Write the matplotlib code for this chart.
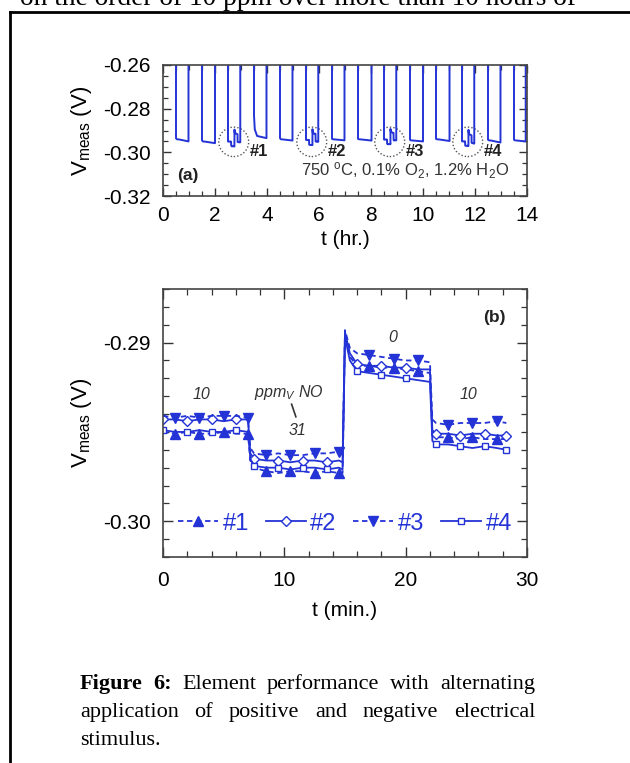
import matplotlib
matplotlib.use("Agg")
import matplotlib.pyplot as plt
from matplotlib.patches import Ellipse
from matplotlib.lines import Line2D
from matplotlib.ticker import MultipleLocator, FormatStrFormatter

plt.rcParams['font.family'] = ['Liberation Sans', 'DejaVu Sans']
plt.rcParams['axes.unicode_minus'] = False
plt.rcParams['mathtext.fontset'] = 'custom'
plt.rcParams['mathtext.rm'] = 'Liberation Sans'
plt.rcParams['mathtext.it'] = 'Liberation Sans:italic'
plt.rcParams['mathtext.bf'] = 'Liberation Sans:bold'

BLUE = '#2433d6'

# ---- panel (b): one 30 min cycle, 10 -> 31 -> 0 -> 10 ppm NO
t_b = [0.0, 1.0, 2.0, 3.0, 4.0, 5.0, 6.0, 7.0, 7.2, 7.5, 8.5, 9.5, 10.5, 11.5,
       12.5, 13.5, 14.5, 14.8, 15.0, 15.4, 16.0, 17.0, 18.0, 19.0, 20.0, 21.0,
       22.0, 22.2, 22.5, 23.5, 24.5, 25.5, 26.5, 27.5, 28.3]
v_1 = [-0.2950, -0.2951, -0.2950, -0.2951, -0.2951, -0.2950, -0.2951, -0.2951,
       -0.2966, -0.2970, -0.2972, -0.2973, -0.2972, -0.2972, -0.2973, -0.2972,
       -0.2973, -0.2973, -0.2896, -0.2908, -0.2913, -0.2913, -0.2914, -0.2914,
       -0.2915, -0.2916, -0.2917, -0.2952, -0.2953, -0.2953, -0.2954, -0.2953,
       -0.2954, -0.2954, -0.2954]
v_2 = [-0.2943, -0.2943, -0.2944, -0.2943, -0.2943, -0.2944, -0.2943, -0.2943,
       -0.2962, -0.2965, -0.2966, -0.2966, -0.2967, -0.2966, -0.2966, -0.2967,
       -0.2966, -0.2967, -0.2894, -0.2906, -0.2912, -0.2913, -0.2913, -0.2914,
       -0.2914, -0.2915, -0.2915, -0.2949, -0.2951, -0.2951, -0.2952, -0.2951,
       -0.2951, -0.2952, -0.2952]
v_3 = [-0.2941, -0.2942, -0.2941, -0.2942, -0.2941, -0.2941, -0.2941, -0.2942,
       -0.2959, -0.2962, -0.2963, -0.2962, -0.2963, -0.2963, -0.2962, -0.2962,
       -0.2961, -0.2963, -0.2893, -0.2903, -0.2906, -0.2907, -0.2908, -0.2909,
       -0.2910, -0.2910, -0.2911, -0.2943, -0.2945, -0.2946, -0.2945, -0.2945,
       -0.2945, -0.2944, -0.2945]
v_4 = [-0.2949, -0.2950, -0.2950, -0.2949, -0.2950, -0.2950, -0.2949, -0.2950,
       -0.2965, -0.2969, -0.2970, -0.2970, -0.2971, -0.2970, -0.2970, -0.2971,
       -0.2970, -0.2971, -0.2897, -0.2910, -0.2916, -0.2917, -0.2918, -0.2919,
       -0.2920, -0.2921, -0.2922, -0.2955, -0.2957, -0.2957, -0.2958, -0.2959,
       -0.2958, -0.2959, -0.2960]
series_b = [v_1, v_2, v_3, v_4]
labels_b = ['#1', '#2', '#3', '#4']

# ---- panel (a): 14 h record, low (negative stimulus) periods
low_start = [0.5, 1.5, 3.5, 4.5, 6.5, 7.5, 9.5, 10.5, 12.5, 13.5]
low_end = [0.98, 2.0, 3.98, 4.98, 6.98, 8.02, 10.0, 11.02, 12.98, 13.95]
v_drop = [-0.2935, -0.2945, -0.2830, -0.2935, -0.2938, -0.2938, -0.2942, -0.2938, -0.2942, -0.2942]
v_knee = [-0.2940, -0.2950, -0.2895, -0.2940, -0.2940, -0.2940, -0.2945, -0.2940, -0.2945, -0.2945]
v_mid = [-0.2941, -0.2951, -0.2925, -0.2941, -0.2941, -0.2941, -0.2946, -0.2941, -0.2946, -0.2946]
v_end = [-0.2950, -0.2958, -0.2935, -0.2946, -0.2945, -0.2946, -0.2950, -0.2948, -0.2955, -0.2950]
special_start = [2.5, 5.5, 8.5, 11.5]
v_high = -0.245   # off scale (positive stimulus)

# build panel (a) trace
segs = []
for i in range(len(low_start)):
    t0, t1 = low_start[i], low_end[i]
    segs.append((t0, [t0, t0, t0 + 0.03, t0 + 0.12, t1, t1],
                 [v_high, v_drop[i], v_knee[i], v_mid[i], v_end[i], v_high]))
for k, t0 in enumerate(special_start):
    tt = [t0] + [t0 + x / 60.0 for x in t_b] + [t0 + t_b[-1] / 60.0]
    vv = [v_high] + series_b[k] + [v_high]
    segs.append((t0, tt, vv))
segs.sort(key=lambda s: s[0])
ta, va = [0.0], [v_high]
for _, tt, vv in segs:
    ta += tt
    va += vv
ta.append(14.0)
va.append(v_high)

W, H = 630, 763
fig = plt.figure(figsize=(W / 100, H / 100), dpi=100)

# page frame
fig.add_artist(Line2D([10 / W, 10 / W], [0, 1 - 12 / H], color='black', lw=2, transform=fig.transFigure))
fig.add_artist(Line2D([10 / W, 1], [1 - 12 / H, 1 - 12 / H], color='black', lw=2, transform=fig.transFigure))

def style(ax, maj, minr, xpad):
    ax.tick_params(which='both', direction='in', top=True, right=True, labelsize=15, color='#333333')
    ax.tick_params(which='major', length=maj, width=1.0)
    ax.tick_params(which='minor', length=minr, width=0.9)
    ax.tick_params(axis='y', pad=9)
    ax.tick_params(axis='x', pad=xpad)
    for s in ax.spines.values():
        s.set_color('#444444')
        s.set_linewidth(1.2)

# ---- panel (a)
axa = fig.add_axes([163 / W, 1 - 196 / H, 364 / W, 131 / H])
axa.plot(ta, va, color=BLUE, lw=1.4)
axa.set_xlim(0, 14)
axa.set_ylim(-0.32, -0.26)
axa.xaxis.set_major_locator(MultipleLocator(2))
axa.xaxis.set_minor_locator(MultipleLocator(0.5))
axa.yaxis.set_major_locator(MultipleLocator(0.02))
axa.yaxis.set_minor_locator(MultipleLocator(0.005))
axa.yaxis.set_major_formatter(FormatStrFormatter('%.2f'))
style(axa, 6, 3.5, 7)
axa.set_xlabel('t (hr.)', fontsize=15)
axa.xaxis.set_label_coords(0.5, -0.26)
axa.set_ylabel(r'V$_{\rm meas}$ (V)', fontsize=16)
axa.yaxis.set_label_coords(-0.19, 0.5)
for k, t0 in enumerate(special_start):
    axa.add_patch(Ellipse((t0 + 0.22, -0.2952), 1.15, 0.0135, fill=False, ls=(0, (1, 1.5)),
                          ec='#555555', lw=1.0))
    axa.text(t0 + 0.83, -0.2995, labels_b[k], fontsize=12, fontweight='bold', va='center', ha='left', color='#222222')
axa.text(0.55, -0.3105, '(a)', fontsize=12.5, fontweight='bold', va='center', ha='left', color='#222222')
axa.text(13.3, -0.3083, r'750 $^{\rm o}$C, 0.1% O$_2$, 1.2% H$_2$O', fontsize=12,
         va='center', ha='right', color='#333333')

# ---- panel (b)
axb = fig.add_axes([163 / W, 1 - 557 / H, 364 / W, 268 / H])
styles = [dict(ls=(0, (3, 2)), marker='^', mfc=BLUE, ms=6.5),
          dict(ls='-', marker='D', mfc='white', ms=5),
          dict(ls=(0, (3, 2)), marker='v', mfc=BLUE, ms=6.5),
          dict(ls='-', marker='s', mfc='white', ms=4.5)]
marks = [[1, 3, 5, 7, 10, 12, 14, 16, 21, 23, 25, 29, 31, 33],
         [0, 2, 4, 6, 9, 11, 13, 15, 20, 22, 24, 28, 30, 32, 34],
         [1, 3, 5, 7, 10, 12, 14, 16, 21, 23, 25, 29, 31, 33],
         [0, 2, 4, 6, 9, 11, 13, 15, 20, 22, 24, 28, 30, 32, 34]]
for k in range(4):
    axb.plot(t_b, series_b[k], color=BLUE, lw=1.3, mec=BLUE, mew=1.0,
             markevery=marks[k], label=labels_b[k], **styles[k])
axb.set_xlim(0, 30)
axb.set_ylim(-0.302, -0.287)
axb.xaxis.set_major_locator(MultipleLocator(10))
axb.xaxis.set_minor_locator(MultipleLocator(2))
axb.yaxis.set_major_locator(MultipleLocator(0.01))
axb.yaxis.set_minor_locator(MultipleLocator(0.001))
axb.yaxis.set_major_formatter(FormatStrFormatter('%.2f'))
style(axb, 7, 4, 10)
axb.set_xlabel('t (min.)', fontsize=15)
axb.xaxis.set_label_coords(0.5, -0.165)
axb.set_ylabel(r'V$_{\rm meas}$ (V)', fontsize=16)
axb.yaxis.set_label_coords(-0.19, 0.5)
axb.legend(loc='center', bbox_to_anchor=(0.5, 0.125), ncol=4, frameon=False, fontsize=17,
           handlelength=1.7, handletextpad=0.2, columnspacing=0.7, labelcolor=BLUE)
it = dict(fontsize=11.5, style='italic', ha='center', va='center', color='#333333')
axb.text(3.2, -0.2929, '10', **it)
axb.text(10.4, -0.2928, r'ppm$_{\mathit{V}}$ NO', **it)
axb.plot([10.6, 10.95], [-0.29345, -0.29415], color='#333333', lw=1.2)
axb.text(11.1, -0.2949, '31', **it)
axb.text(18.9, -0.2897, '0', **it)
axb.text(25.2, -0.2929, '10', **it)
axb.text(27.3, -0.2886, '(b)', fontsize=12.5, fontweight='bold', ha='center', va='center', color='#222222')

# ---- page text
renderer = fig.canvas.get_renderer()
top = fig.text(20 / W, 1 - 5 / H, 'on the order of 10 ppm over more than 10 hours of',
               family='Liberation Serif', fontsize=18, va='baseline', ha='left')
tw = top.get_window_extent(renderer).width
top.set_fontsize(18 * 558 / tw)

def justify(words, base_y, x0, x1, size, last=False):
    objs = [fig.text(0, 1 - base_y / H, w, family='Liberation Serif', fontsize=size,
                     fontweight='bold' if b else 'normal', va='baseline', ha='left')
            for w, b in words]
    widths = [o.get_window_extent(renderer).width for o in objs]
    gap = size * 0.25 * 100 / 72 if last else ((x1 - x0) - sum(widths)) / (len(objs) - 1)
    x = x0
    for o, w in zip(objs, widths):
        o.set_x(x / W)
        x += w + gap

cap = 16
justify([('Figure', True), ('6:', True), ('Element', False), ('performance', False),
         ('with', False), ('alternating', False)], 689, 80, 535, cap)
justify([(w, False) for w in 'application of positive and negative electrical'.split()],
        717, 80, 535, cap)
justify([('stimulus.', False)], 745, 80, 535, cap, last=True)

fig.savefig('out.png', dpi=100)
